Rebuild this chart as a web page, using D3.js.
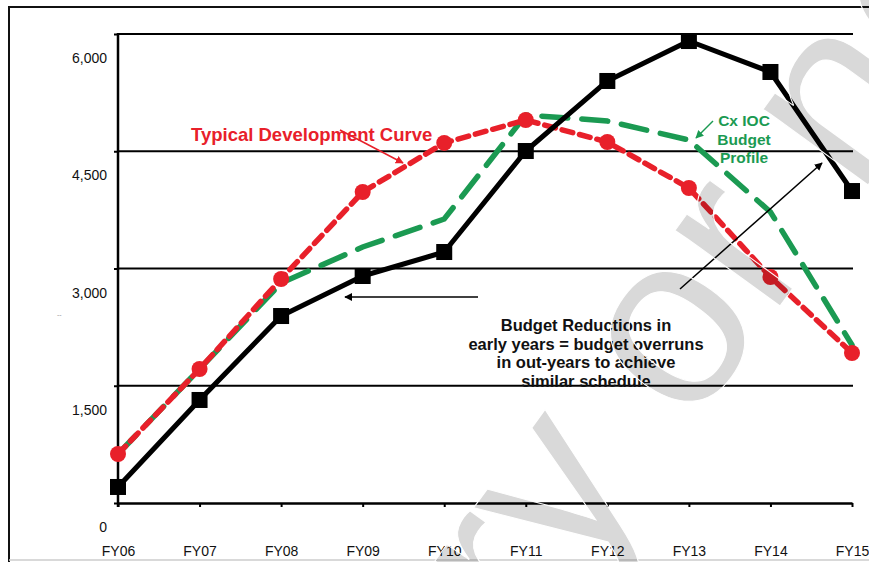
<!DOCTYPE html>
<html>
<head>
<meta charset="utf-8">
<script src="https://cdn.jsdelivr.net/npm/d3@7"></script>
<style>
  body { margin: 0; background: #fff; }
  svg { display: block; font-family: "Liberation Sans", Arial, sans-serif; }
</style>
</head>
<body>
<div id="container"></div>
<script>
let w = 869;
let h = 562;

// fiscal years on the x axis
let years = ["FY06","FY07","FY08","FY09","FY10","FY11","FY12","FY13","FY14","FY15"];
// black squares - actual budget
let actual = [205, 1318, 2392, 2904, 3211, 4503, 5399, 5910, 5514, 3991];
// red dotted - typical development curve
let typical = [627, 1714, 2866, 3979, 4606, 4900, 4618, 4030, 2891, 1919];
// green long dash - Cx IOC budget profile
let cxIoc = [627, 1714, 2814, 3275, 3633, 4964, 4887, 4644, 3723, 2021];
// y ticks
let yTicks = [0, 1500, 3000, 4500, 6000];

let viz = d3.select("#container")
  .append("svg")
    .attr("width", w)
    .attr("height", h)
;

// outer frame
viz.append("line").attr("x1", 9).attr("y1", 7).attr("x2", w).attr("y2", 7)
  .attr("stroke", "#111").attr("stroke-width", 2);
viz.append("line").attr("x1", 9).attr("y1", 6).attr("x2", 9).attr("y2", h)
  .attr("stroke", "#111").attr("stroke-width", 2);
viz.append("line").attr("x1", 9).attr("y1", 560).attr("x2", w).attr("y2", 560)
  .attr("stroke", "#ccc").attr("stroke-width", 1.5);

let xScale = d3.scalePoint().domain(years).range([118, 852]).padding(0);
let yScale = d3.scaleLinear().domain([0, 6000]).range([503, 34]);

// gridlines
viz.selectAll(".grid").data(yTicks.filter(d => d > 0)).enter()
  .append("line")
    .attr("class", "grid")
    .attr("x1", 118)
    .attr("x2", 853)
    .attr("y1", d => yScale(d))
    .attr("y2", d => yScale(d))
    .attr("stroke", "#000")
    .attr("stroke-width", 2)
;

// y axis - labels sit below their lines like in the original
let yAxis = d3.axisLeft(yScale).tickValues(yTicks).tickSize(4).tickSizeOuter(0)
  .tickPadding(7).tickFormat(d3.format(","));
let yG = viz.append("g").attr("transform", "translate(118,0)").call(yAxis);
yG.select(".domain").remove();
yG.selectAll(".tick line").attr("stroke", "#000").attr("stroke-width", 2);
yG.selectAll(".tick text")
  .attr("dy", "2.05em")
  .attr("font-size", 14)
  .attr("fill", "#111")
  .style("font-family", "Liberation Sans, Arial, sans-serif");

viz.append("line").attr("x1", 118).attr("x2", 118).attr("y1", 33).attr("y2", 507)
  .attr("stroke", "#000").attr("stroke-width", 2.5);

// x axis
let xAxis = d3.axisBottom(xScale).tickSize(4).tickSizeOuter(0).tickPadding(39);
let xG = viz.append("g").attr("transform", "translate(0,503)").call(xAxis);
xG.select(".domain").attr("stroke", "#000").attr("stroke-width", 2.5);
xG.selectAll(".tick line").attr("stroke", "#000").attr("stroke-width", 2);
xG.selectAll(".tick text")
  .attr("font-size", 14)
  .attr("fill", "#111")
  .style("font-family", "Liberation Sans, Arial, sans-serif");

// tiny mark left of the axis
viz.append("text").attr("x", 57).attr("y", 317).attr("font-size", 7)
  .attr("fill", "#999").text("--");

// arrowheads
let defs = viz.append("defs");
function addMarker(id, color){
  defs.append("marker")
    .attr("id", id)
    .attr("viewBox", "0 0 10 10")
    .attr("refX", 9).attr("refY", 5)
    .attr("markerWidth", 8).attr("markerHeight", 8)
    .attr("markerUnits", "userSpaceOnUse")
    .attr("orient", "auto")
    .append("path").attr("d", "M0,0L10,5L0,10z").attr("fill", color);
}
addMarker("arrBlack", "#000");
addMarker("arrRed", "#e8202a");
addMarker("arrGreen", "#1b9a52");

let line = d3.line().x((d, i) => xScale(years[i])).y(d => yScale(d));

// green
viz.append("path").datum(cxIoc)
  .attr("d", line)
  .attr("fill", "none")
  .attr("stroke", "#1b9a52")
  .attr("stroke-width", 5.5)
  .attr("stroke-dasharray", "26,14")
  .attr("stroke-linecap", "round")
;

// red
viz.append("path").datum(typical)
  .attr("d", line)
  .attr("fill", "none")
  .attr("stroke", "#e8202a")
  .attr("stroke-width", 5.5)
  .attr("stroke-dasharray", "11,7")
  .attr("stroke-linecap", "round")
;
viz.selectAll(".redDot").data(typical).enter()
  .append("circle")
    .attr("class", "redDot")
    .attr("cx", (d, i) => xScale(years[i]))
    .attr("cy", d => yScale(d))
    .attr("r", 8)
    .attr("fill", "#e8202a")
;

// black
viz.append("path").datum(actual)
  .attr("d", line)
  .attr("fill", "none")
  .attr("stroke", "#000")
  .attr("stroke-width", 5)
  .attr("stroke-linejoin", "round")
;
viz.selectAll(".blackSq").data(actual).enter()
  .append("rect")
    .attr("class", "blackSq")
    .attr("x", (d, i) => xScale(years[i]) - 8)
    .attr("y", d => yScale(d) - 8)
    .attr("width", 16)
    .attr("height", 16)
    .attr("fill", "#000")
;

// annotations
viz.append("text")
  .attr("x", 191).attr("y", 141)
  .attr("font-size", 18.5).attr("font-weight", "bold")
  .attr("fill", "#e8202a")
  .text("Typical Development Curve");
viz.append("line")
  .attr("x1", 340).attr("y1", 130).attr("x2", 403).attr("y2", 163)
  .attr("stroke", "#e8202a").attr("stroke-width", 1.5)
  .attr("marker-end", "url(#arrRed)");

let greenLines = ["Cx IOC", "Budget", "Profile"];
viz.selectAll(".greenLbl").data(greenLines).enter()
  .append("text")
    .attr("class", "greenLbl")
    .attr("x", 744)
    .attr("y", (d, i) => 126 + i * 18.5)
    .attr("text-anchor", "middle")
    .attr("font-size", 15.5).attr("font-weight", "bold")
    .attr("fill", "#1b9a52")
    .text(d => d);
viz.append("line")
  .attr("x1", 713).attr("y1", 121).attr("x2", 696).attr("y2", 138)
  .attr("stroke", "#1b9a52").attr("stroke-width", 1.5)
  .attr("marker-end", "url(#arrGreen)");

let noteLines = ["Budget Reductions in", "early years = budget overruns", "in out-years to achieve", "similar schedule"];
viz.selectAll(".note").data(noteLines).enter()
  .append("text")
    .attr("class", "note")
    .attr("x", 586)
    .attr("y", (d, i) => 331 + i * 18.5)
    .attr("text-anchor", "middle")
    .attr("font-size", 16.5).attr("font-weight", "bold")
    .attr("fill", "#111")
    .text(d => d);

viz.append("line")
  .attr("x1", 478).attr("y1", 297).attr("x2", 345).attr("y2", 297)
  .attr("stroke", "#000").attr("stroke-width", 1.5)
  .attr("marker-end", "url(#arrBlack)");
viz.append("line")
  .attr("x1", 680).attr("y1", 289).attr("x2", 822).attr("y2", 163)
  .attr("stroke", "#000").attr("stroke-width", 1.5)
  .attr("marker-end", "url(#arrBlack)");

// watermark
let wm = viz.append("g")
  .attr("transform", "translate(690,430) rotate(-54)")
  .attr("font-size", 245)
  .attr("fill", "#000")
  .attr("fill-opacity", 0.15)
  .attr("stroke", "#fff")
  .attr("stroke-width", 1)
;
wm.append("text").attr("x", 0).attr("y", 0).attr("text-anchor", "end").text("Preliminary\u00a0");
wm.append("text").attr("x", 0).attr("y", 0).attr("text-anchor", "start").text("or not");
</script>
</body>
</html>
